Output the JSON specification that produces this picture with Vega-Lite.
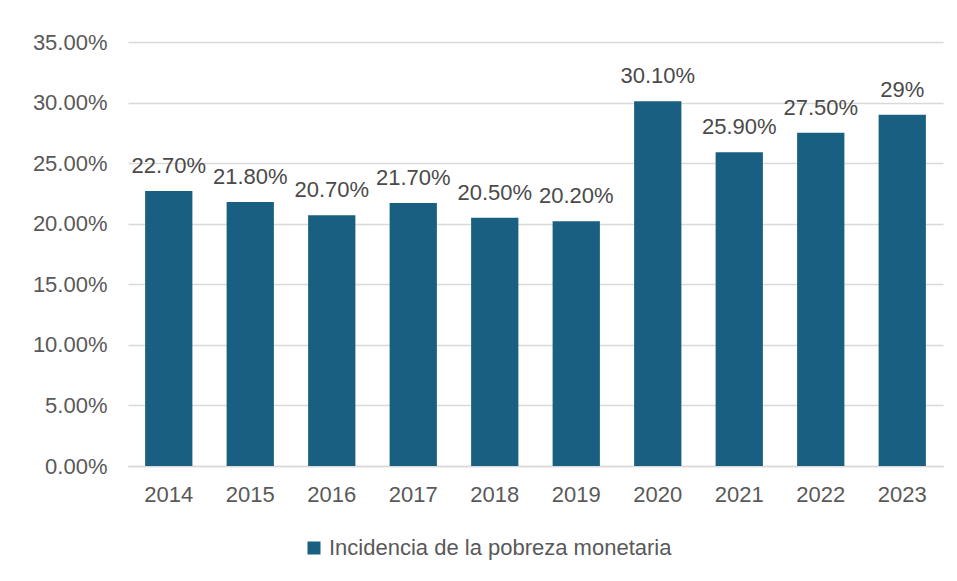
{
  "$schema": "https://vega.github.io/schema/vega-lite/v6.json",
  "autosize": "none",
  "width": 815,
  "height": 424,
  "padding": {"left": 128, "top": 42, "right": 14, "bottom": 115},
  "background": "white",
  "config": {
    "font": "Liberation Sans",
    "view": {"stroke": null}
  },
  "data": {
    "values": [
      {"year": "2014", "value": 0.227, "label": "22.70%", "serie": "Incidencia de la pobreza monetaria"},
      {"year": "2015", "value": 0.218, "label": "21.80%", "serie": "Incidencia de la pobreza monetaria"},
      {"year": "2016", "value": 0.207, "label": "20.70%", "serie": "Incidencia de la pobreza monetaria"},
      {"year": "2017", "value": 0.217, "label": "21.70%", "serie": "Incidencia de la pobreza monetaria"},
      {"year": "2018", "value": 0.205, "label": "20.50%", "serie": "Incidencia de la pobreza monetaria"},
      {"year": "2019", "value": 0.202, "label": "20.20%", "serie": "Incidencia de la pobreza monetaria"},
      {"year": "2020", "value": 0.301, "label": "30.10%", "serie": "Incidencia de la pobreza monetaria"},
      {"year": "2021", "value": 0.259, "label": "25.90%", "serie": "Incidencia de la pobreza monetaria"},
      {"year": "2022", "value": 0.275, "label": "27.50%", "serie": "Incidencia de la pobreza monetaria"},
      {"year": "2023", "value": 0.29, "label": "29%", "serie": "Incidencia de la pobreza monetaria"}
    ]
  },
  "encoding": {
    "x": {
      "field": "year", "type": "nominal", "title": null,
      "scale": {"paddingInner": 0.42, "paddingOuter": 0.21},
      "axis": {"labelAngle": 0, "labelFontSize": 22, "labelColor": "#595959", "labelPadding": 18,
               "ticks": false, "domainColor": "#d9d9d9", "domainWidth": 1.5}
    },
    "y": {
      "field": "value", "type": "quantitative", "title": null,
      "scale": {"domain": [0, 0.35]},
      "axis": {"format": ".2%", "values": [0, 0.05, 0.1, 0.15, 0.2, 0.25, 0.3, 0.35],
               "labelFontSize": 22, "labelColor": "#595959", "labelPadding": 21,
               "ticks": false, "domain": false, "gridColor": "#d9d9d9", "gridWidth": 1.5}
    }
  },
  "layer": [
    {
      "mark": {"type": "bar", "color": "#195f81"},
      "encoding": {
        "color": {
          "field": "serie", "type": "nominal",
          "scale": {"range": ["#195f81"]},
          "legend": {"title": null, "orient": "none", "legendX": 175, "legendY": 495,
                     "symbolType": "square", "symbolSize": 169, "labelFontSize": 22,
                     "labelColor": "#595959", "labelLimit": 0, "symbolStrokeWidth": 0, "labelOffset": 4}
        }
      }
    },
    {
      "mark": {"type": "text", "baseline": "bottom", "dy": -13, "fontSize": 22, "color": "#4a4a4a"},
      "encoding": {"text": {"field": "label"}}
    }
  ]
}
